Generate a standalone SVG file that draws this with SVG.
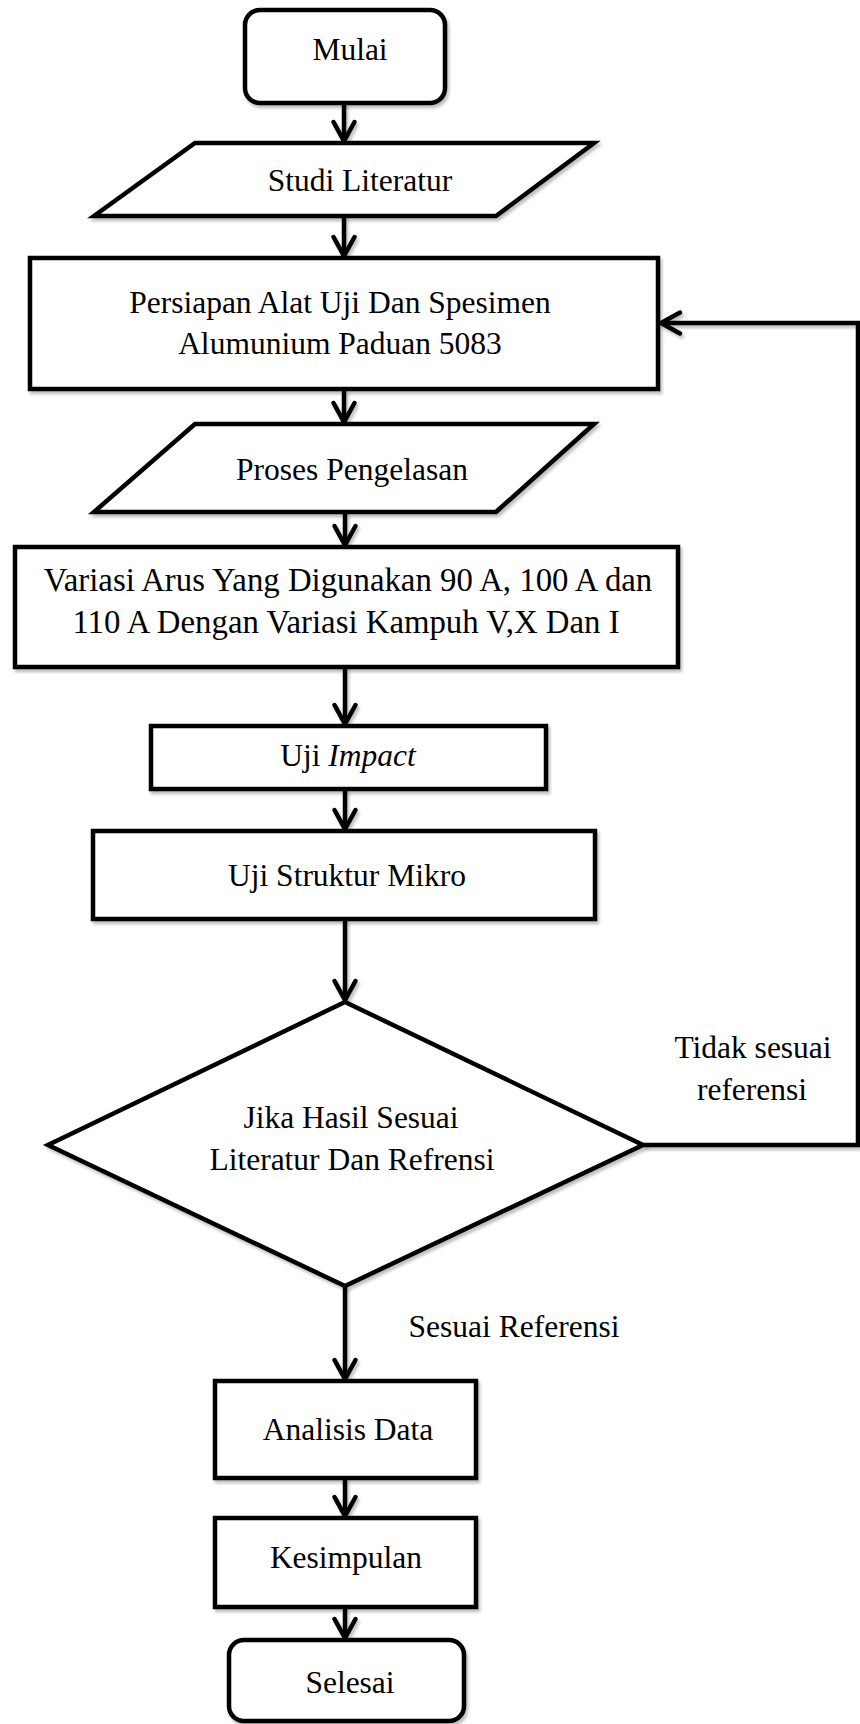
<svg xmlns="http://www.w3.org/2000/svg" width="860" height="1724" viewBox="0 0 860 1724">
<defs>
<style>
.shape{fill:#fff;stroke:#000;stroke-width:4.5;stroke-linejoin:miter;filter:url(#sh)}
.conn{fill:none;stroke:#000;stroke-width:4.5;marker-end:url(#arr);filter:url(#sh)}
text{font-family:'Liberation Serif','DejaVu Serif',serif;font-size:31.5px;fill:#000;text-anchor:middle}
.big{font-size:32.8px}
</style>
<filter id="sh" filterUnits="userSpaceOnUse" x="0" y="0" width="860" height="1724">
<feDropShadow dx="2" dy="3" stdDeviation="1.5" flood-color="#000" flood-opacity="0.25"/>
</filter>
<marker id="arr" markerUnits="userSpaceOnUse" markerWidth="40" markerHeight="40" refX="0" refY="0" orient="auto" overflow="visible">
<path d="M -19 -10.5 L 0 0 L -19 10.5" fill="none" stroke="#000" stroke-width="4.5" stroke-linecap="round" stroke-linejoin="miter"/>
</marker>
</defs>
<rect width="860" height="1724" fill="#fff"/>

<g id="connectors">
<line class="conn" x1="344" y1="103" x2="344" y2="141"/>
<line class="conn" x1="344" y1="216" x2="344" y2="256"/>
<line class="conn" x1="344" y1="389" x2="344" y2="422"/>
<line class="conn" x1="345" y1="512" x2="345" y2="545"/>
<line class="conn" x1="345" y1="667" x2="345" y2="724"/>
<line class="conn" x1="345" y1="789" x2="345" y2="829"/>
<line class="conn" x1="345" y1="919" x2="345" y2="1000"/>
<line class="conn" x1="345" y1="1286" x2="345" y2="1379"/>
<line class="conn" x1="345" y1="1478" x2="345" y2="1516"/>
<line class="conn" x1="345" y1="1607" x2="345" y2="1638"/>
<polyline class="conn" points="643,1145 858,1145 858,323 661,323"/>
</g>

<g id="mulai"><rect class="shape" x="245" y="10" width="200" height="93" rx="15"/><text x="350" y="60">Mulai</text></g>
<g id="studi"><polygon class="shape" points="195,143 594,143 496,216 94,216"/><text x="360" y="191">Studi Literatur</text></g>
<g id="persiapan"><rect class="shape" x="30" y="258" width="628" height="131"/><text x="340" y="313">Persiapan Alat Uji Dan Spesimen</text><text x="340" y="354">Alumunium Paduan 5083</text></g>
<g id="proses"><polygon class="shape" points="195,424 594,424 496,512 94,512"/><text x="352" y="480">Proses Pengelasan</text></g>
<g id="variasi"><rect class="shape" x="15" y="547" width="663" height="120"/><text class="big" x="348" y="591">Variasi Arus Yang Digunakan 90 A, 100 A dan</text><text class="big" x="346" y="633">110 A Dengan Variasi Kampuh V,X Dan I</text></g>
<g id="impact"><rect class="shape" x="151" y="726" width="395" height="63"/><text x="348" y="766">Uji <tspan font-style="italic">Impact</tspan></text></g>
<g id="struktur"><rect class="shape" x="93" y="831" width="502" height="88"/><text x="347" y="886">Uji Struktur Mikro</text></g>
<g id="keputusan"><polygon class="shape" points="345,1002 643,1145 345,1286 48,1145"/><text x="351" y="1128">Jika Hasil Sesuai</text><text x="352" y="1170">Literatur Dan Refrensi</text></g>
<g id="label-tidak"><text x="753" y="1058">Tidak sesuai</text><text x="752" y="1100">referensi</text></g>
<g id="label-sesuai"><text x="514" y="1337">Sesuai Referensi</text></g>
<g id="analisis"><rect class="shape" x="215" y="1381" width="261" height="97"/><text x="348" y="1440">Analisis Data</text></g>
<g id="kesimpulan"><rect class="shape" x="215" y="1518" width="261" height="89"/><text x="346" y="1568">Kesimpulan</text></g>
<g id="selesai"><rect class="shape" x="229" y="1640" width="235" height="81" rx="15"/><text x="350" y="1693">Selesai</text></g>
</svg>
